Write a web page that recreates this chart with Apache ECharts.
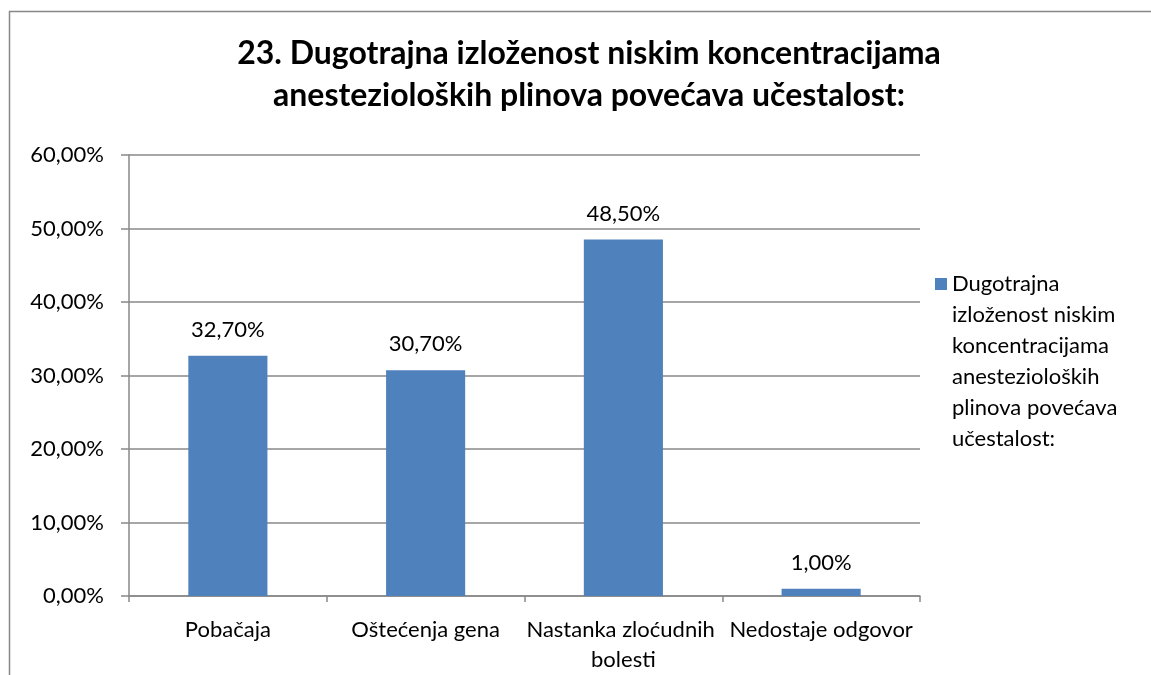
<!DOCTYPE html>
<html>
<head>
<meta charset="utf-8">
<script src="https://cdn.jsdelivr.net/npm/echarts@6/dist/echarts.min.js"></script>
<style>
html,body{margin:0;padding:0;background:#fff;}
#chart{width:1151px;height:675px;}
</style>
</head>
<body>
<div id="chart"></div>
<script>
const titleText = '23. Dugotrajna izloženost niskim koncentracijama\nanestezioloških plinova povećava učestalost:';
const seriesName = 'Dugotrajna izloženost niskim koncentracijama anestezioloških plinova povećava učestalost:';
const legendLines = ['Dugotrajna', 'izloženost niskim', 'koncentracijama', 'anestezioloških', 'plinova povećava', 'učestalost:'];
const categories = ['Pobačaja', 'Oštećenja gena', 'Nastanka zloćudnih bolesti', 'Nedostaje odgovor'];
const values = [32.7, 30.7, 48.5, 1.0];
const yTicks = {min: 0, max: 60, interval: 10};

const fmt = v => v.toFixed(2).replace('.', ',') + '%';
const FONT = 'Lato';
const LH = 31;
const pad = legendLines.length - 1;
const chart = echarts.init(document.getElementById('chart'));
chart.setOption({
  backgroundColor: '#fff',
  animation: false,
  textStyle: {fontFamily: FONT},
  title: {
    text: titleText,
    left: 584, textAlign: 'center', top: 28,
    textStyle: {fontFamily: FONT, fontSize: 32, fontWeight: 'bold', color: '#000', lineHeight: 42}
  },
  graphic: [{
    type: 'rect', shape: {x: 9.5, y: 11.5, width: 1200, height: 700},
    style: {fill: 'none', stroke: '#888', lineWidth: 1.5}, silent: true, z: 100
  }],
  legend: {
    orient: 'vertical', left: 935, top: 284 - (2 * pad + 1) * LH / 2,
    padding: 0,
    itemWidth: 12, itemHeight: 12, itemGap: 10,
    icon: 'rect',
    data: [seriesName],
    formatter: () => '\n'.repeat(pad) + legendLines.join('\n'),
    textStyle: {fontFamily: FONT, fontSize: 22, color: '#000', lineHeight: LH}
  },
  grid: {left: 129, right: 231, top: 155, bottom: 79, containLabel: false},
  xAxis: {
    type: 'category', data: categories,
    axisLine: {lineStyle: {color: '#888', width: 1.5}},
    axisTick: {show: true, length: 6, lineStyle: {color: '#888', width: 1.5}},
    axisLabel: {fontFamily: FONT, fontSize: 22, color: '#000', margin: 19, width: 212, overflow: 'break', lineHeight: 30, interval: 0}
  },
  yAxis: {
    type: 'value', min: yTicks.min, max: yTicks.max, interval: yTicks.interval,
    axisLine: {show: true, lineStyle: {color: '#888', width: 1.5}},
    axisTick: {show: true, length: 8, lineStyle: {color: '#888', width: 1.5}},
    splitLine: {lineStyle: {color: '#888', width: 1.5}},
    axisLabel: {fontFamily: FONT, fontSize: 22, color: '#000', margin: 25, formatter: v => fmt(v)}
  },
  series: [{
    name: seriesName,
    type: 'bar', data: values, barWidth: '40%',
    itemStyle: {color: '#4F81BD'},
    label: {show: true, position: 'top', distance: 15, formatter: p => fmt(p.value), fontFamily: FONT, fontSize: 22, color: '#000'}
  }]
});
</script>
</body>
</html>
